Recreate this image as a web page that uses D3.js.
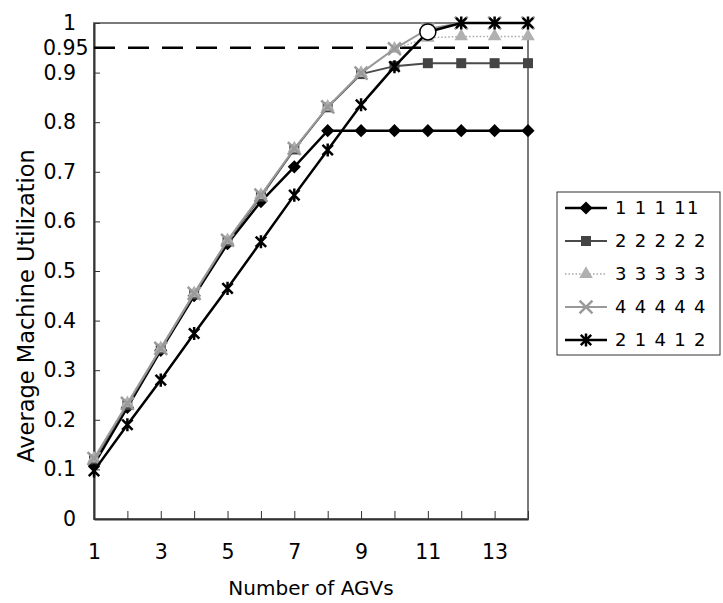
<!DOCTYPE html>
<html>
<head>
<meta charset="utf-8">
<script src="https://cdn.jsdelivr.net/npm/d3@7"></script>
<style>
  body { margin: 0; background: #fff; }
  svg text { font-family: "DejaVu Sans", "Noto Sans", sans-serif; fill: #000; }
</style>
</head>
<body>
<div id="chart"></div>
<script>
// number of AGVs
var agvs = [1, 2, 3, 4, 5, 6, 7, 8, 9, 10, 11, 12, 13, 14];
var seriesNames = ["1 1 1 11", "2 2 2 2 2", "3 3 3 3 3", "4 4 4 4 4", "2 1 4 1 2"];
var util11111 = [0.11, 0.225, 0.34, 0.45, 0.555, 0.64, 0.71, 0.783, 0.783, 0.783, 0.783, 0.783, 0.783, 0.783];
var util22222 = [0.12, 0.23, 0.343, 0.453, 0.56, 0.65, 0.745, 0.83, 0.897, 0.913, 0.919, 0.919, 0.919, 0.919];
var util33333 = [0.122, 0.233, 0.344, 0.455, 0.562, 0.653, 0.747, 0.831, 0.899, 0.948, 0.97, 0.973, 0.973, 0.973];
var util44444 = [0.122, 0.233, 0.344, 0.455, 0.562, 0.653, 0.747, 0.831, 0.899, 0.948, 0.988, 1.0, 1.0, 1.0];
var util21412 = [0.097, 0.19, 0.28, 0.374, 0.465, 0.559, 0.653, 0.744, 0.835, 0.912, 0.982, 1.0, 1.0, 1.0];
var yTicks = [0, 0.1, 0.2, 0.3, 0.4, 0.5, 0.6, 0.7, 0.8, 0.9, 1];
var xLabels = [1, 3, 5, 7, 9, 11, 13];
var target = 0.95;
var highlightAgv = 11;

var width = 723, height = 603;
var margin = {left: 94, right: 195, top: 23, bottom: 84};

var svg = d3.select("#chart").append("svg")
    .attr("width", width)
    .attr("height", height);

var x = d3.scaleLinear().domain([1, 14]).range([margin.left, width - margin.right]);
var y = d3.scaleLinear().domain([0, 1]).range([height - margin.bottom, margin.top]);

// plot frame
svg.append("rect")
    .attr("x", x(1)).attr("y", y(1))
    .attr("width", x(14) - x(1)).attr("height", y(0) - y(1))
    .attr("fill", "none")
    .attr("stroke", "#7a7a7a")
    .attr("stroke-width", 2);

// axes, ticks pointing into the plot
var xAxis = d3.axisBottom(x)
    .tickValues(agvs)
    .tickSizeInner(-8).tickSizeOuter(0)
    .tickFormat(function(d) { return xLabels.indexOf(d) >= 0 ? d : ""; });
var gx = svg.append("g")
    .attr("transform", "translate(0," + y(0) + ")")
    .call(xAxis);
gx.selectAll("text").attr("y", 25).style("font-size", "20.5px");

var yAxis = d3.axisLeft(y)
    .tickValues(yTicks)
    .tickSizeInner(-6).tickSizeOuter(0)
    .tickFormat(d3.format("~g"));
var gy = svg.append("g")
    .attr("transform", "translate(" + x(1) + ",0)")
    .call(yAxis);
gy.selectAll("text").attr("x", -18).style("font-size", "20.5px");

svg.selectAll(".domain").attr("stroke", "#333").attr("stroke-width", 2);
svg.selectAll(".tick line").attr("stroke", "#333");

// 0.95 label
svg.append("text")
    .attr("x", 43).attr("y", y(target))
    .attr("dy", "0.35em")
    .style("font-size", "20.5px")
    .text("0.95");

// dashed target line
svg.append("line")
    .attr("x1", x(1)).attr("x2", x(14))
    .attr("y1", y(target)).attr("y2", y(target))
    .attr("stroke", "#000")
    .attr("stroke-width", 2.5)
    .attr("stroke-dasharray", "21,13");

// axis titles
svg.append("text")
    .attr("x", (x(1) + x(14)) / 2).attr("y", 595)
    .attr("text-anchor", "middle")
    .style("font-size", "20px")
    .text("Number of AGVs");

svg.append("text")
    .attr("transform", "translate(34,306) rotate(-90)")
    .attr("text-anchor", "middle")
    .style("font-size", "22.5px")
    .text("Average Machine Utilization");

// series
var asterisk = {
  draw: function(ctx, size) {
    var r = Math.sqrt(size) / 2;
    var k = r * 0.8;
    ctx.moveTo(-k, -k); ctx.lineTo(k, k);
    ctx.moveTo(k, -k); ctx.lineTo(-k, k);
    ctx.moveTo(0, -r); ctx.lineTo(0, r);
  }
};

var series = [
  {name: seriesNames[0], values: util11111, line: "#000", width: 2.5, dash: null,
   symbol: d3.symbolDiamond2, size: 110, fill: "#000", stroke: "none"},
  {name: seriesNames[1], values: util22222, line: "#4a4a4a", width: 2, dash: null,
   symbol: d3.symbolSquare, size: 100, fill: "#444", stroke: "none"},
  {name: seriesNames[2], values: util33333, line: "#a8a8a8", width: 1.5, dash: "1.5,2",
   symbol: d3.symbolTriangle, size: 80, fill: "#b0b0b0", stroke: "none"},
  {name: seriesNames[3], values: util44444, line: "#999", width: 2, dash: null,
   symbol: d3.symbolTimes, size: 110, fill: "none", stroke: "#9a9a9a"},
  {name: seriesNames[4], values: util21412, line: "#000", width: 2.5, dash: null,
   symbol: asterisk, size: 170, fill: "none", stroke: "#000"}
];

var line = d3.line()
    .x(function(d, i) { return x(agvs[i]); })
    .y(function(d) { return y(d); });

series.forEach(function(s) {
  svg.append("path")
      .datum(s.values)
      .attr("d", line)
      .attr("fill", "none")
      .attr("stroke", s.line)
      .attr("stroke-width", s.width)
      .attr("stroke-dasharray", s.dash);

  svg.selectAll(null)
      .data(s.values)
    .enter().append("path")
      .attr("transform", function(d, i) { return "translate(" + x(agvs[i]) + "," + y(d) + ")"; })
      .attr("d", d3.symbol().type(s.symbol).size(s.size))
      .attr("fill", s.fill)
      .attr("stroke", s.stroke)
      .attr("stroke-width", 2.5);
});

// highlighted point
svg.append("circle")
    .attr("cx", x(highlightAgv))
    .attr("cy", y(util21412[agvs.indexOf(highlightAgv)]))
    .attr("r", 8)
    .attr("fill", "#fff")
    .attr("stroke", "#000")
    .attr("stroke-width", 1.5);

// legend
var legend = svg.append("g").attr("transform", "translate(557,192)");
legend.append("rect")
    .attr("width", 163).attr("height", 163)
    .attr("fill", "#fff")
    .attr("stroke", "#333")
    .attr("stroke-width", 1);

var item = legend.selectAll(".item")
    .data(series)
  .enter().append("g")
    .attr("class", "item")
    .attr("transform", function(d, i) { return "translate(0," + (16 + i * 33) + ")"; });

item.append("line")
    .attr("x1", 8).attr("x2", 50)
    .attr("stroke", function(d) { return d.line; })
    .attr("stroke-width", function(d) { return d.width; })
    .attr("stroke-dasharray", function(d) { return d.dash; });

item.append("path")
    .attr("transform", "translate(29,0)")
    .attr("d", function(d) { return d3.symbol().type(d.symbol).size(d.size)(); })
    .attr("fill", function(d) { return d.fill; })
    .attr("stroke", function(d) { return d.stroke; })
    .attr("stroke-width", 2.5);

item.append("text")
    .attr("x", 58)
    .attr("dy", "0.36em")
    .style("font-size", "18px")
    .style("letter-spacing", "1.3px")
    .text(function(d) { return d.name; });
</script>
</body>
</html>
